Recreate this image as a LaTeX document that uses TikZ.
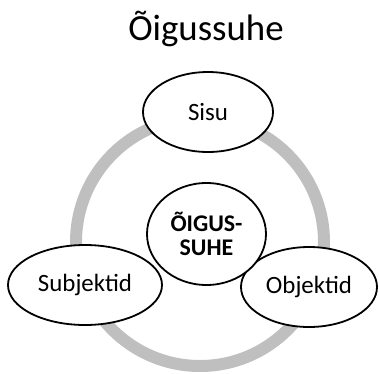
\documentclass[tikz,border=0pt]{standalone}
\usepackage{fontspec}
\setmainfont{Carlito}
\usetikzlibrary{shapes.geometric}
\definecolor{ringgray}{RGB}{191,191,191}
\tikzset{
  ring/.style={circle, draw=ringgray, line width=12bp, inner sep=0pt, minimum size=248bp},
  part/.style={ellipse, draw=black, line width=1.8bp, fill=white, inner sep=0pt,
               font=\fontsize{25}{28}\selectfont},
  core/.style={part, align=center, font=\fontsize{24}{24}\selectfont\bfseries},
  heading/.style={font=\fontsize{37}{40}\selectfont, inner sep=0pt}
}
\begin{document}
\begin{tikzpicture}[x=1bp,y=-1bp]
  \useasboundingbox (0,0) rectangle (379,374);
  % title
  \node[heading, anchor=base] (title) at (206,40) {Õigussuhe};
  % grey cycle behind the parts
  \node[ring] (cycle) at (200,242) {};
  % the three parts and the centre
  \node[part, minimum width=130bp, minimum height=80bp] (sisu) at (208,112) {Sisu};
  \node[part, minimum width=154bp, minimum height=80bp] (subj) at (85,285) {Subjektid};
  \node[part, minimum width=136bp, minimum height=80bp] (obj) at (309,287) {Objektid};
  \node[core, minimum width=119bp, minimum height=102bp] (core) at (206.5,234) {ÕIGUS-\\SUHE};
\end{tikzpicture}
\end{document}
